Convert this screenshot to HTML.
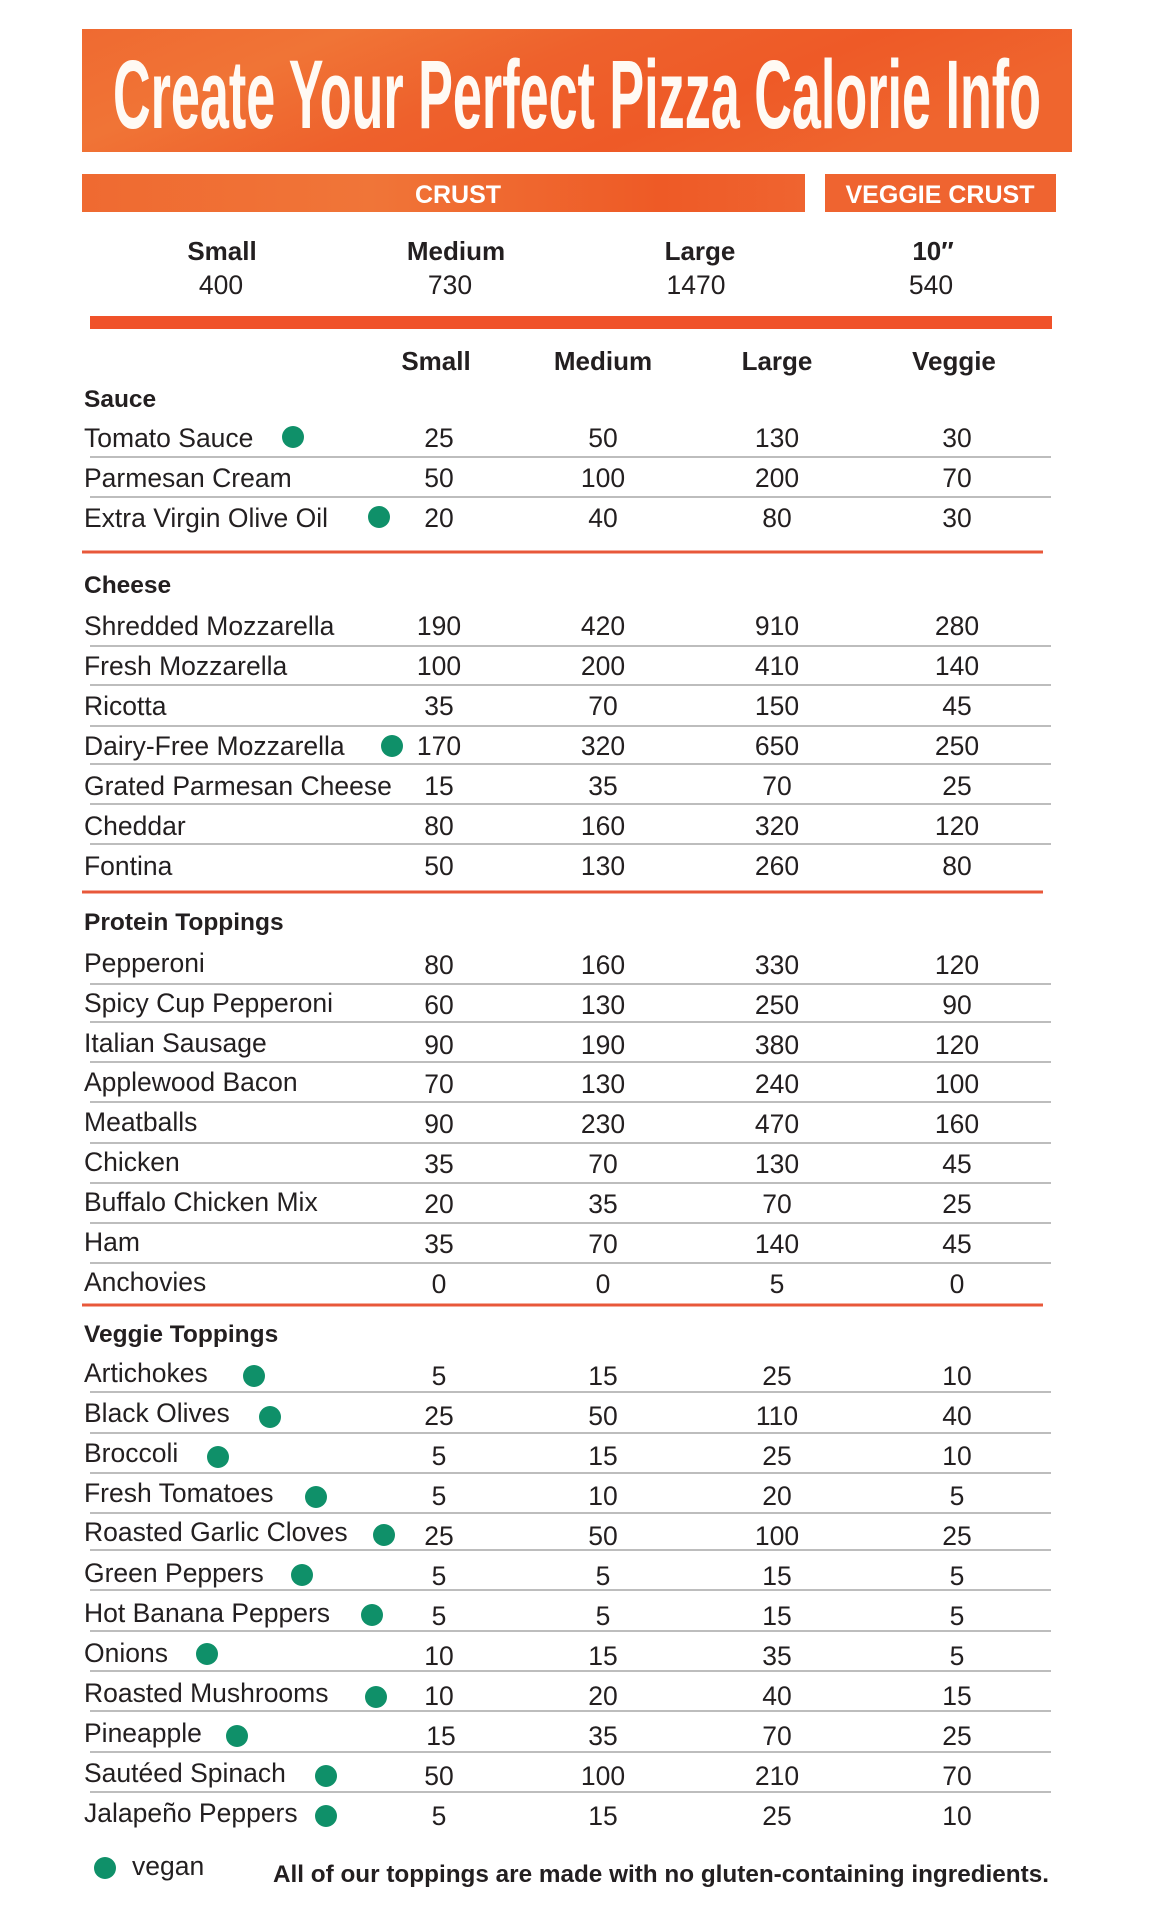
<!DOCTYPE html>
<html>
<head>
<meta charset="utf-8">
<style>
  html,body{margin:0;padding:0;background:#fff;}
  svg{display:block;}
  .t{font-family:"Liberation Sans",Arial,sans-serif;fill:#231f20;}
  .n{font-size:26.5px;}
  .v{font-size:26.5px;text-anchor:middle;}
  .h{font-size:24.5px;font-weight:bold;}
  .ch{font-size:26px;font-weight:bold;text-anchor:middle;}
</style>
</head>
<body>
<svg width="1152" height="1920" viewBox="0 0 1152 1920" xmlns="http://www.w3.org/2000/svg">
  <defs>
    <linearGradient id="bg1" x1="0" y1="0" x2="1" y2="0.3">
      <stop offset="0" stop-color="#ef6a31"/>
      <stop offset="0.25" stop-color="#f07436"/>
      <stop offset="0.5" stop-color="#ee612c"/>
      <stop offset="0.75" stop-color="#ee5a27"/>
      <stop offset="1" stop-color="#ef652e"/>
    </linearGradient>
    <linearGradient id="bg2" x1="0" y1="0" x2="1" y2="0">
      <stop offset="0" stop-color="#ef6a31"/>
      <stop offset="0.4" stop-color="#f07538"/>
      <stop offset="0.8" stop-color="#ee5a26"/>
      <stop offset="1" stop-color="#ef6430"/>
    </linearGradient>
  </defs>

  <!-- Title banner -->
  <rect x="82" y="29" width="990" height="123" fill="url(#bg1)"/>
  <text x="113" y="128" font-family="'Liberation Sans',Arial,sans-serif" font-weight="bold" font-size="97" fill="#fffaf4" textLength="928" lengthAdjust="spacingAndGlyphs">Create Your Perfect Pizza Calorie Info</text>

  <!-- Crust bars -->
  <rect x="82" y="174" width="723" height="38" fill="url(#bg2)"/>
  <rect x="825" y="174" width="231" height="38" fill="#ef6430"/>
  <text x="458" y="203" font-family="'Liberation Sans',Arial,sans-serif" font-weight="bold" font-size="25" fill="#fff" text-anchor="middle">CRUST</text>
  <text x="940" y="203" font-family="'Liberation Sans',Arial,sans-serif" font-weight="bold" font-size="25" fill="#fff" text-anchor="middle" textLength="189" lengthAdjust="spacingAndGlyphs">VEGGIE CRUST</text>

  <!-- Crust sizes -->
  <text class="t ch" x="222" y="260">Small</text>
  <text class="t ch" x="456" y="260">Medium</text>
  <text class="t ch" x="700" y="260">Large</text>
  <text class="t ch" x="933" y="260">10″</text>
  <text class="t v" x="221" y="294">400</text>
  <text class="t v" x="450" y="294">730</text>
  <text class="t v" x="696" y="294">1470</text>
  <text class="t v" x="931" y="294">540</text>

  <rect x="90" y="316" width="962" height="13" fill="#f0522a"/>

  <!-- Column headers -->
  <text class="t ch" x="436" y="370">Small</text>
  <text class="t ch" x="603" y="370">Medium</text>
  <text class="t ch" x="777" y="370">Large</text>
  <text class="t ch" x="954" y="370">Veggie</text>

  <!-- grey lines -->
  <g stroke="#bdbdbd" stroke-width="2">
    <line x1="90" y1="457" x2="1051" y2="457"/>
    <line x1="90" y1="497" x2="1051" y2="497"/>
    <line x1="90" y1="646" x2="1051" y2="646"/>
    <line x1="90" y1="685" x2="1051" y2="685"/>
    <line x1="90" y1="726" x2="1051" y2="726"/>
    <line x1="90" y1="764" x2="1051" y2="764"/>
    <line x1="90" y1="804" x2="1051" y2="804"/>
    <line x1="90" y1="844" x2="1051" y2="844"/>
    <line x1="90" y1="984" x2="1051" y2="984"/>
    <line x1="90" y1="1022" x2="1051" y2="1022"/>
    <line x1="90" y1="1062" x2="1051" y2="1062"/>
    <line x1="90" y1="1102" x2="1051" y2="1102"/>
    <line x1="90" y1="1143" x2="1051" y2="1143"/>
    <line x1="90" y1="1183" x2="1051" y2="1183"/>
    <line x1="90" y1="1223" x2="1051" y2="1223"/>
    <line x1="90" y1="1263" x2="1051" y2="1263"/>
    <line x1="90" y1="1392" x2="1051" y2="1392"/>
    <line x1="90" y1="1433" x2="1051" y2="1433"/>
    <line x1="90" y1="1473" x2="1051" y2="1473"/>
    <line x1="90" y1="1513" x2="1051" y2="1513"/>
    <line x1="90" y1="1550" x2="1051" y2="1550"/>
    <line x1="90" y1="1590" x2="1051" y2="1590"/>
    <line x1="90" y1="1631" x2="1051" y2="1631"/>
    <line x1="90" y1="1671" x2="1051" y2="1671"/>
    <line x1="90" y1="1711" x2="1051" y2="1711"/>
    <line x1="90" y1="1752" x2="1051" y2="1752"/>
    <line x1="90" y1="1792" x2="1051" y2="1792"/>
  </g>

  <!-- orange separators -->
  <g stroke="#e8583a" stroke-width="3">
    <line x1="82" y1="552" x2="1043" y2="552"/>
    <line x1="82" y1="892" x2="1043" y2="892"/>
    <line x1="82" y1="1305" x2="1043" y2="1305"/>
  </g>

  <!-- Section headers -->
  <text class="t h" x="84" y="407">Sauce</text>
  <text class="t h" x="84" y="593">Cheese</text>
  <text class="t h" x="84" y="930">Protein Toppings</text>
  <text class="t h" x="84" y="1342">Veggie Toppings</text>

  <!-- Sauce rows -->
  <g class="t n">
    <text x="84" y="447">Tomato Sauce</text>
    <text x="84" y="487">Parmesan Cream</text>
    <text x="84" y="527">Extra Virgin Olive Oil</text>

    <text x="84" y="635">Shredded Mozzarella</text>
    <text x="84" y="675">Fresh Mozzarella</text>
    <text x="84" y="715">Ricotta</text>
    <text x="84" y="755">Dairy-Free Mozzarella</text>
    <text x="84" y="795">Grated Parmesan Cheese</text>
    <text x="84" y="835">Cheddar</text>
    <text x="84" y="875">Fontina</text>

    <text x="84" y="972">Pepperoni</text>
    <text x="84" y="1012">Spicy Cup Pepperoni</text>
    <text x="84" y="1052">Italian Sausage</text>
    <text x="84" y="1091">Applewood Bacon</text>
    <text x="84" y="1131">Meatballs</text>
    <text x="84" y="1171">Chicken</text>
    <text x="84" y="1211">Buffalo Chicken Mix</text>
    <text x="84" y="1251">Ham</text>
    <text x="84" y="1291">Anchovies</text>

    <text x="84" y="1382">Artichokes</text>
    <text x="84" y="1422">Black Olives</text>
    <text x="84" y="1462">Broccoli</text>
    <text x="84" y="1502">Fresh Tomatoes</text>
    <text x="84" y="1541">Roasted Garlic Cloves</text>
    <text x="84" y="1582">Green Peppers</text>
    <text x="84" y="1622">Hot Banana Peppers</text>
    <text x="84" y="1662">Onions</text>
    <text x="84" y="1702">Roasted Mushrooms</text>
    <text x="84" y="1742">Pineapple</text>
    <text x="84" y="1782">Sautéed Spinach</text>
    <text x="84" y="1822">Jalapeño Peppers</text>
  </g>

  <!-- Values -->
  <g class="t v">
    <!-- sauce -->
    <text x="439" y="447">25</text><text x="603" y="447">50</text><text x="777" y="447">130</text><text x="957" y="447">30</text>
    <text x="439" y="487">50</text><text x="603" y="487">100</text><text x="777" y="487">200</text><text x="957" y="487">70</text>
    <text x="439" y="527">20</text><text x="603" y="527">40</text><text x="777" y="527">80</text><text x="957" y="527">30</text>
    <!-- cheese -->
    <text x="439" y="635">190</text><text x="603" y="635">420</text><text x="777" y="635">910</text><text x="957" y="635">280</text>
    <text x="439" y="675">100</text><text x="603" y="675">200</text><text x="777" y="675">410</text><text x="957" y="675">140</text>
    <text x="439" y="715">35</text><text x="603" y="715">70</text><text x="777" y="715">150</text><text x="957" y="715">45</text>
    <text x="439" y="755">170</text><text x="603" y="755">320</text><text x="777" y="755">650</text><text x="957" y="755">250</text>
    <text x="439" y="795">15</text><text x="603" y="795">35</text><text x="777" y="795">70</text><text x="957" y="795">25</text>
    <text x="439" y="835">80</text><text x="603" y="835">160</text><text x="777" y="835">320</text><text x="957" y="835">120</text>
    <text x="439" y="875">50</text><text x="603" y="875">130</text><text x="777" y="875">260</text><text x="957" y="875">80</text>
    <!-- protein -->
    <text x="439" y="974">80</text><text x="603" y="974">160</text><text x="777" y="974">330</text><text x="957" y="974">120</text>
    <text x="439" y="1014">60</text><text x="603" y="1014">130</text><text x="777" y="1014">250</text><text x="957" y="1014">90</text>
    <text x="439" y="1054">90</text><text x="603" y="1054">190</text><text x="777" y="1054">380</text><text x="957" y="1054">120</text>
    <text x="439" y="1093">70</text><text x="603" y="1093">130</text><text x="777" y="1093">240</text><text x="957" y="1093">100</text>
    <text x="439" y="1133">90</text><text x="603" y="1133">230</text><text x="777" y="1133">470</text><text x="957" y="1133">160</text>
    <text x="439" y="1173">35</text><text x="603" y="1173">70</text><text x="777" y="1173">130</text><text x="957" y="1173">45</text>
    <text x="439" y="1213">20</text><text x="603" y="1213">35</text><text x="777" y="1213">70</text><text x="957" y="1213">25</text>
    <text x="439" y="1253">35</text><text x="603" y="1253">70</text><text x="777" y="1253">140</text><text x="957" y="1253">45</text>
    <text x="439" y="1293">0</text><text x="603" y="1293">0</text><text x="777" y="1293">5</text><text x="957" y="1293">0</text>
    <!-- veggie -->
    <text x="439" y="1385">5</text><text x="603" y="1385">15</text><text x="777" y="1385">25</text><text x="957" y="1385">10</text>
    <text x="439" y="1425">25</text><text x="603" y="1425">50</text><text x="777" y="1425">110</text><text x="957" y="1425">40</text>
    <text x="439" y="1465">5</text><text x="603" y="1465">15</text><text x="777" y="1465">25</text><text x="957" y="1465">10</text>
    <text x="439" y="1505">5</text><text x="603" y="1505">10</text><text x="777" y="1505">20</text><text x="957" y="1505">5</text>
    <text x="439" y="1545">25</text><text x="603" y="1545">50</text><text x="777" y="1545">100</text><text x="957" y="1545">25</text>
    <text x="439" y="1585">5</text><text x="603" y="1585">5</text><text x="777" y="1585">15</text><text x="957" y="1585">5</text>
    <text x="439" y="1625">5</text><text x="603" y="1625">5</text><text x="777" y="1625">15</text><text x="957" y="1625">5</text>
    <text x="439" y="1665">10</text><text x="603" y="1665">15</text><text x="777" y="1665">35</text><text x="957" y="1665">5</text>
    <text x="439" y="1705">10</text><text x="603" y="1705">20</text><text x="777" y="1705">40</text><text x="957" y="1705">15</text>
    <text x="441" y="1745">15</text><text x="603" y="1745">35</text><text x="777" y="1745">70</text><text x="957" y="1745">25</text>
    <text x="439" y="1785">50</text><text x="603" y="1785">100</text><text x="777" y="1785">210</text><text x="957" y="1785">70</text>
    <text x="439" y="1825">5</text><text x="603" y="1825">15</text><text x="777" y="1825">25</text><text x="957" y="1825">10</text>
  </g>

  <!-- vegan dots -->
  <g fill="#0f9069">
    <circle cx="293" cy="437" r="11"/>
    <circle cx="379" cy="517" r="11"/>
    <circle cx="392" cy="746" r="11"/>
    <circle cx="254" cy="1376" r="11"/>
    <circle cx="270" cy="1417" r="11"/>
    <circle cx="218" cy="1457" r="11"/>
    <circle cx="316" cy="1497" r="11"/>
    <circle cx="384" cy="1535" r="11"/>
    <circle cx="302" cy="1575" r="11"/>
    <circle cx="372" cy="1615" r="11"/>
    <circle cx="207" cy="1654" r="11"/>
    <circle cx="376" cy="1697" r="11"/>
    <circle cx="237" cy="1736" r="11"/>
    <circle cx="326" cy="1776" r="11"/>
    <circle cx="326" cy="1816" r="11"/>
    <circle cx="105" cy="1868" r="11"/>
  </g>

  <!-- Footer -->
  <text class="t n" x="132" y="1875">vegan</text>
  <text x="273" y="1882" font-family="'Liberation Sans',Arial,sans-serif" font-weight="bold" font-size="24" fill="#231f20" textLength="776" lengthAdjust="spacingAndGlyphs">All of our toppings are made with no gluten-containing ingredients.</text>
</svg>
</body>
</html>
